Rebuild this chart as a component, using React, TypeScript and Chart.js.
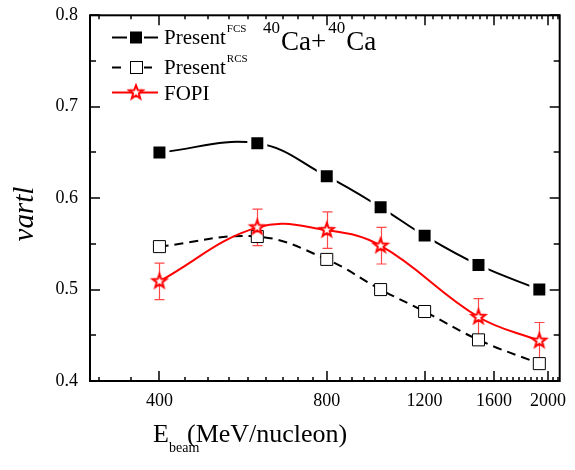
import { useEffect, useRef } from 'react';
import { Chart, registerables } from 'chart.js';

Chart.register(...registerables);

// ---- data ----
const energies = [400, 600, 800, 1000, 1200, 1500, 1930];
const presentFCS = [0.65, 0.66, 0.624, 0.59, 0.559, 0.527, 0.5];
const presentRCS = [0.547, 0.558, 0.533, 0.5, 0.476, 0.445, 0.419];
const fopiEnergies = [400, 600, 800, 1000, 1500, 1930];
const fopiValues = [0.509, 0.568, 0.565, 0.548, 0.47, 0.444];
const fopiErrors = [0.02, 0.02, 0.02, 0.02, 0.02, 0.02];
const xTickValues = [400, 800, 1200, 1600, 2000];
const yTickValues = [0.4, 0.5, 0.6, 0.7, 0.8];

const X_MIN = 300;
const X_MAX = 2100;
const Y_MIN = 0.4;
const Y_MAX = 0.8;
const X_MINOR_STEP = 400 / 9;
const Y_MINOR_STEP = 0.05;

const SERIF = '"Liberation Serif", "Times New Roman", serif';

function traceStar(g: CanvasRenderingContext2D, cx: number, cy: number, ro: number, ri: number) {
  g.beginPath();
  for (let i = 0; i < 10; i++) {
    const r = i % 2 === 0 ? ro : ri;
    const a = -Math.PI / 2 + (i * Math.PI) / 5;
    const px = cx + r * Math.cos(a);
    const py = cy + r * Math.sin(a);
    if (i === 0) g.moveTo(px, py);
    else g.lineTo(px, py);
  }
  g.closePath();
}

function makeStar(): HTMLCanvasElement {
  const c = document.createElement('canvas');
  c.width = 20;
  c.height = 20;
  const g = c.getContext('2d')!;
  traceStar(g, 10, 10, 7.2, 3.0);
  g.fillStyle = '#ffffff';
  g.fill();
  g.lineWidth = 2;
  g.strokeStyle = '#ff0000';
  g.lineJoin = 'miter';
  g.stroke();
  return c;
}

const errorBarPlugin = {
  id: 'errorBars',
  beforeDatasetsDraw(chart: any) {
    const { ctx, scales } = chart;
    const x = scales.x;
    const y = scales.y;
    ctx.save();
    ctx.strokeStyle = 'rgba(255,40,40,0.85)';
    ctx.lineWidth = 1.2;
    fopiEnergies.forEach((e, i) => {
      const px = Math.round(x.getPixelForValue(e)) + 0.5;
      const y1 = y.getPixelForValue(fopiValues[i] + fopiErrors[i]);
      const y2 = y.getPixelForValue(fopiValues[i] - fopiErrors[i]);
      ctx.beginPath();
      ctx.moveTo(px, y1);
      ctx.lineTo(px, y2);
      ctx.moveTo(px - 5, y1);
      ctx.lineTo(px + 5, y1);
      ctx.moveTo(px - 5, y2);
      ctx.lineTo(px + 5, y2);
      ctx.stroke();
    });
    ctx.restore();
  },
};

const framePlugin = {
  id: 'frameTicks',
  afterDatasetsDraw(chart: any) {
    const { ctx, chartArea, scales } = chart;
    const { left, right, top, bottom } = chartArea;
    const x = scales.x;
    const y = scales.y;
    ctx.save();
    ctx.strokeStyle = '#000';
    ctx.lineWidth = 1.5;
    ctx.beginPath();
    for (let v = 400 - 2 * X_MINOR_STEP; v <= X_MAX + 1e-6; v += X_MINOR_STEP) {
      if (v < X_MIN) continue;
      const px = Math.round(x.getPixelForValue(v));
      const isMajor = xTickValues.some((t) => Math.abs(t - v) < 1);
      const len = isMajor ? 10 : 4;
      ctx.moveTo(px, bottom);
      ctx.lineTo(px, bottom - len);
      ctx.moveTo(px, top);
      ctx.lineTo(px, top + len);
    }
    for (let v = Y_MIN; v <= Y_MAX + 1e-9; v += Y_MINOR_STEP) {
      const py = Math.round(y.getPixelForValue(v));
      const isMajor = yTickValues.some((t) => Math.abs(t - v) < 1e-6);
      const len = isMajor ? 10 : 6;
      ctx.moveTo(left, py);
      ctx.lineTo(left + len, py);
      ctx.moveTo(right, py);
      ctx.lineTo(right - len, py);
    }
    ctx.stroke();
    ctx.lineWidth = 2;
    ctx.strokeRect(left, top, right - left, bottom - top);
    ctx.restore();
  },
};

function makeTextPlugin(star: HTMLCanvasElement) {
  return {
    id: 'texts',
    afterDraw(chart: any) {
      const { ctx } = chart;
      ctx.save();
      ctx.fillStyle = '#000';
      ctx.textBaseline = 'alphabetic';
      ctx.textAlign = 'left';

      // row 1: Present FCS
      let ly = 37.5;
      ctx.strokeStyle = '#000';
      ctx.lineWidth = 2;
      ctx.setLineDash([]);
      ctx.beginPath();
      ctx.moveTo(112, ly);
      ctx.lineTo(127, ly);
      ctx.moveTo(144, ly);
      ctx.lineTo(158, ly);
      ctx.stroke();
      ctx.fillRect(130, ly - 6, 12, 12);

      const drawSup = (base: string, sup: string, x0: number, yb: number, ys: number) => {
        ctx.font = `21px ${SERIF}`;
        ctx.fillText(base, x0, yb);
        const w = ctx.measureText(base).width;
        ctx.font = `11px ${SERIF}`;
        ctx.fillText(sup, x0 + w + 1, ys);
      };
      drawSup('Present', 'FCS', 164, 44, 32);

      // row 2: Present RCS
      ly = 67.5;
      ctx.beginPath();
      ctx.moveTo(112, ly);
      ctx.lineTo(121, ly);
      ctx.moveTo(144, ly);
      ctx.lineTo(152, ly);
      ctx.stroke();
      ctx.lineWidth = 1;
      ctx.fillStyle = '#fff';
      ctx.fillRect(130.5, ly - 6, 12, 12);
      ctx.strokeRect(130.5, ly - 6, 12, 12);
      ctx.fillStyle = '#000';
      drawSup('Present', 'RCS', 164, 74, 62);

      // row 3: FOPI
      ly = 92.5;
      ctx.strokeStyle = '#ff0000';
      ctx.lineWidth = 2;
      ctx.beginPath();
      ctx.moveTo(112, ly);
      ctx.lineTo(158, ly);
      ctx.stroke();
      ctx.drawImage(star, 136 - 10, ly - 10);
      ctx.font = `21px ${SERIF}`;
      ctx.fillText('FOPI', 164, 100);

      // reaction label
      let tx = 263;
      ctx.font = `17px ${SERIF}`;
      ctx.fillText('40', tx, 33);
      tx += ctx.measureText('40').width + 1;
      ctx.font = `27px ${SERIF}`;
      ctx.fillText('Ca+', tx, 50);
      tx += ctx.measureText('Ca+').width + 2;
      ctx.font = `17px ${SERIF}`;
      ctx.fillText('40', tx, 33);
      tx += ctx.measureText('40').width + 1;
      ctx.font = `27px ${SERIF}`;
      ctx.fillText('Ca', tx, 50);

      // x axis title
      ctx.font = `26px ${SERIF}`;
      ctx.fillText('E', 153, 442);
      ctx.font = `14px ${SERIF}`;
      ctx.fillText('beam', 169, 452);
      ctx.font = `26px ${SERIF}`;
      ctx.fillText('(MeV/nucleon)', 187, 442);

      // y axis title
      ctx.save();
      ctx.translate(33, 214);
      ctx.rotate(-Math.PI / 2);
      ctx.textAlign = 'center';
      ctx.font = `italic 29px ${SERIF}`;
      ctx.fillText('vartl', 0, 0);
      ctx.restore();

      ctx.restore();
    },
  };
}

export default function App() {
  const ref = useRef<HTMLCanvasElement>(null);

  useEffect(() => {
    const canvas = ref.current;
    if (!canvas) return;
    const star = makeStar();

    const chart = new Chart(canvas, {
      type: 'line',
      data: {
        datasets: [
          {
            label: 'PresentFCS',
            data: energies.map((e, i) => ({ x: e, y: presentFCS[i] })),
            borderColor: '#000',
            borderWidth: 2,
            tension: 0.4,
            pointStyle: 'rect',
            pointRadius: 11.3,
            pointBackgroundColor: '#000',
            pointBorderColor: '#fff',
            pointBorderWidth: 4,
            order: 2,
          },
          {
            label: 'PresentRCS',
            data: energies.map((e, i) => ({ x: e, y: presentRCS[i] })),
            borderColor: '#000',
            borderWidth: 2,
            borderDash: [9, 6],
            tension: 0.4,
            pointStyle: 'rect',
            pointRadius: 8.5,
            pointBackgroundColor: '#fff',
            pointBorderColor: '#000',
            pointBorderWidth: 1,
            order: 1,
          },
          {
            label: 'FOPI',
            data: fopiEnergies.map((e, i) => ({ x: e, y: fopiValues[i] })),
            borderColor: '#ff0000',
            borderWidth: 2,
            tension: 0.4,
            pointStyle: star as any,
            pointRadius: 8,
            order: 0,
          },
        ],
      },
      options: {
        animation: false,
        responsive: false,
        devicePixelRatio: 1,
        events: [],
        layout: { padding: { top: 15, right: 10, left: 0, bottom: 0 } },
        plugins: { legend: { display: false }, tooltip: { enabled: false } },
        scales: {
          x: {
            type: 'logarithmic',
            min: X_MIN,
            max: X_MAX,
            grid: { display: false, drawTicks: false },
            border: { display: false },
            afterBuildTicks: (scale: any) => {
              scale.ticks = xTickValues.map((v) => ({ value: v }));
            },
            afterFit: (scale: any) => {
              scale.height = 89;
              scale.paddingLeft = 0;
              scale.paddingRight = 0;
            },
            ticks: {
              autoSkip: false,
              maxRotation: 0,
              padding: 9,
              color: '#000',
              font: { family: SERIF, size: 18 },
              callback: (v: any) => String(v),
            },
          },
          y: {
            type: 'linear',
            min: Y_MIN,
            max: Y_MAX,
            grid: { display: false, drawTicks: false },
            border: { display: false },
            afterBuildTicks: (scale: any) => {
              scale.ticks = yTickValues.map((v) => ({ value: v }));
            },
            afterFit: (scale: any) => {
              scale.width = 90;
              scale.paddingTop = 0;
              scale.paddingBottom = 0;
            },
            ticks: {
              padding: 12,
              color: '#000',
              font: { family: SERIF, size: 18 },
              callback: (v: any) => Number(v).toFixed(1),
            },
          },
        },
      },
      plugins: [errorBarPlugin, framePlugin, makeTextPlugin(star)],
    });

    return () => chart.destroy();
  }, []);

  return (
    <div style={{ position: 'fixed', left: 0, top: 0, width: 575, height: 470, background: '#fff' }}>
      <canvas ref={ref} width={575} height={470} style={{ width: 575, height: 470, display: 'block' }} />
    </div>
  );
}
